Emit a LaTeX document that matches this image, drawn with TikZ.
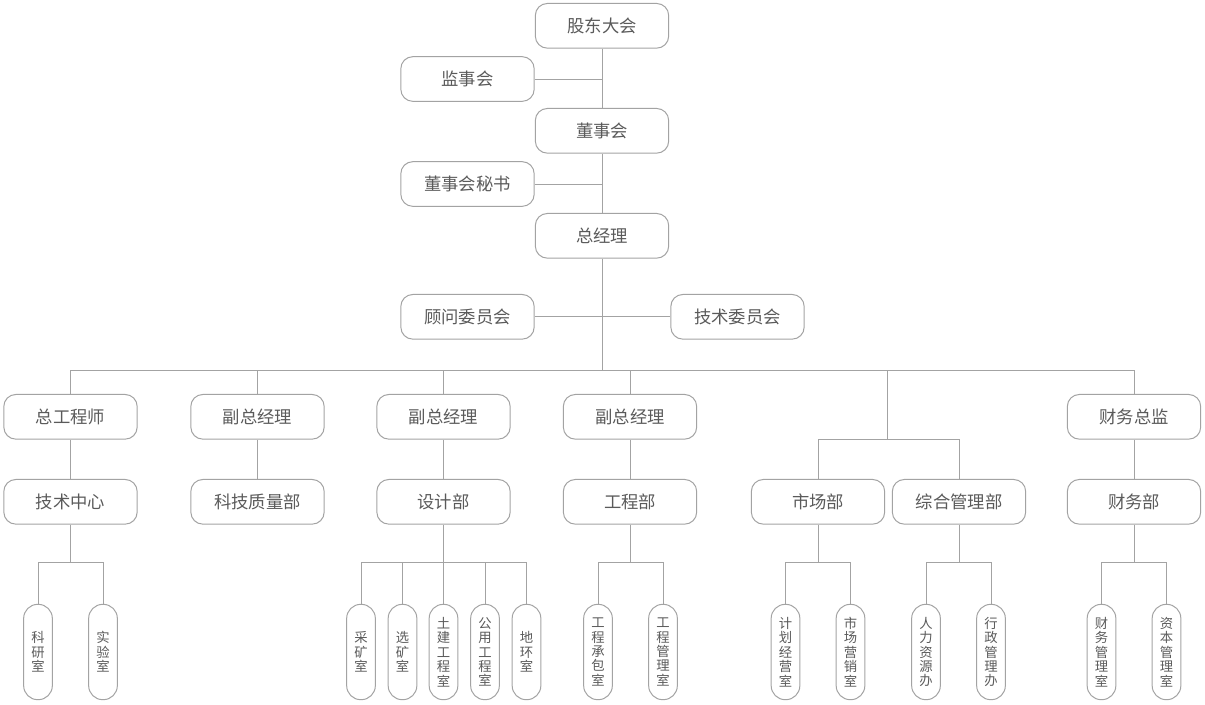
\documentclass[tikz,border=0pt]{standalone}
\usepackage{fontspec}
\setmainfont{Noto Sans CJK SC}
\usetikzlibrary{positioning}
\definecolor{linegray}{HTML}{A3A3A3}
\definecolor{textgray}{HTML}{5A5A5A}
\begin{document}
\begin{tikzpicture}[x=0.75pt,y=-0.75pt,
  box/.style={draw=linegray,line width=0.75pt,rounded corners=9pt,minimum width=100pt,minimum height=33.5pt,inner sep=0pt,text=textgray,font=\fontsize{13}{15}\selectfont},
  vbox/.style={draw=linegray,line width=0.75pt,rounded corners=10.5pt,minimum width=21.5pt,minimum height=71.5pt,inner sep=0pt,text width=21.5pt,align=center,text=textgray,font=\fontsize{10}{10.8}\selectfont},
  conn/.style={draw=linegray,line width=0.75pt}]
\useasboundingbox (0,0) rectangle (1205,704);
\node [box] (gddh) at (602,25.8) {股东大会};
\node [box] (jsh) at (467.5,79) {监事会};
\node [box] (dsh) at (602,130.8) {董事会};
\node [box] (dshms) at (467.5,184) {董事会秘书};
\node [box] (zjl) at (602,235.8) {总经理};
\node [box] (gwwy) at (467.5,316.8) {顾问委员会};
\node [box] (jswy) at (737.5,316.8) {技术委员会};
\coordinate (zbus) at (602,370);
\coordinate (fork) at (887.5,439);
\node [box] (zgcs) at (70.5,416.8) {总工程师};
\node [box] (fzjla) at (257.5,416.8) {副总经理};
\node [box] (fzjlb) at (443.5,416.8) {副总经理};
\node [box] (fzjlc) at (630,416.8) {副总经理};
\node [box] (cwzj) at (1134,416.8) {财务总监};
\node [box] (jszx) at (70.5,501.8) {技术中心};
\node [box] (kjzl) at (257.5,501.8) {科技质量部};
\node [box] (sjb) at (443.5,501.8) {设计部};
\node [box] (gcb) at (630,501.8) {工程部};
\node [box] (scb) at (818,501.8) {市场部};
\node [box] (zhgl) at (959,501.8) {综合管理部};
\node [box] (cwb) at (1134,501.8) {财务部};
\node [vbox] (ky) at (38,652) {科\\研\\室};
\node [vbox] (syz) at (103,652) {实\\验\\室};
\node [vbox] (ck) at (361,652) {采\\矿\\室};
\node [vbox] (xk) at (402.5,652) {选\\矿\\室};
\node [vbox] (tj) at (443.5,652) {土\\建\\工\\程\\室};
\node [vbox] (gy) at (485,652) {公\\用\\工\\程\\室};
\node [vbox] (dh) at (526.5,652) {地\\环\\室};
\node [vbox] (gccb) at (598,652) {工\\程\\承\\包\\室};
\node [vbox] (gcgl) at (663,652) {工\\程\\管\\理\\室};
\node [vbox] (jhjy) at (785.5,652) {计\\划\\经\\营\\室};
\node [vbox] (scyx) at (850.5,652) {市\\场\\营\\销\\室};
\node [vbox] (rlzy) at (926,652) {人\\力\\资\\源\\办};
\node [vbox] (xzgl) at (991,652) {行\\政\\管\\理\\办};
\node [vbox] (cwgl) at (1101.5,652) {财\\务\\管\\理\\室};
\node [vbox] (zbgl) at (1166.5,652) {资\\本\\管\\理\\室};
\draw [conn] (gddh) -- (dsh);
\draw [conn] (dsh) -- (zjl);
\draw [conn] (jsh.east) -- (jsh.east -| gddh);
\draw [conn] (dshms.east) -- (dshms.east -| dsh);
\draw [conn] (zjl.south) -- (zbus);
\draw [conn] (gwwy.east) -- (jswy.west);
\draw [conn] (zgcs.north) |- (zbus) -| (cwzj.north);
\draw [conn] (fzjla.north) -- (fzjla.north |- zbus);
\draw [conn] (fzjlb.north) -- (fzjlb.north |- zbus);
\draw [conn] (fzjlc.north) -- (fzjlc.north |- zbus);
\draw [conn] (fork |- zbus) -- (fork);
\draw [conn] (scb.north) |- (fork) -| (zhgl.north);
\draw [conn] (zgcs) -- (jszx);
\draw [conn] (fzjla) -- (kjzl);
\draw [conn] (fzjlb) -- (sjb);
\draw [conn] (fzjlc) -- (gcb);
\draw [conn] (cwzj) -- (cwb);
\draw [conn] (jszx.south) -- ++(0,37.5) coordinate (jszxb);
\draw [conn] (ky.north) |- (jszxb) -| (syz.north);
\draw [conn] (sjb.south) -- ++(0,37.5) coordinate (sjbb);
\draw [conn] (ck.north) |- (sjbb) -| (dh.north);
\draw [conn] (xk.north) -- (xk.north |- sjbb);
\draw [conn] (gy.north) -- (gy.north |- sjbb);
\draw [conn] (tj.north) -- (tj.north |- sjbb);
\draw [conn] (gcb.south) -- ++(0,37.5) coordinate (gcbb);
\draw [conn] (gccb.north) |- (gcbb) -| (gcgl.north);
\draw [conn] (scb.south) -- ++(0,37.5) coordinate (scbb);
\draw [conn] (jhjy.north) |- (scbb) -| (scyx.north);
\draw [conn] (zhgl.south) -- ++(0,37.5) coordinate (zhglb);
\draw [conn] (rlzy.north) |- (zhglb) -| (xzgl.north);
\draw [conn] (cwb.south) -- ++(0,37.5) coordinate (cwbb);
\draw [conn] (cwgl.north) |- (cwbb) -| (zbgl.north);
\end{tikzpicture}
\end{document}
